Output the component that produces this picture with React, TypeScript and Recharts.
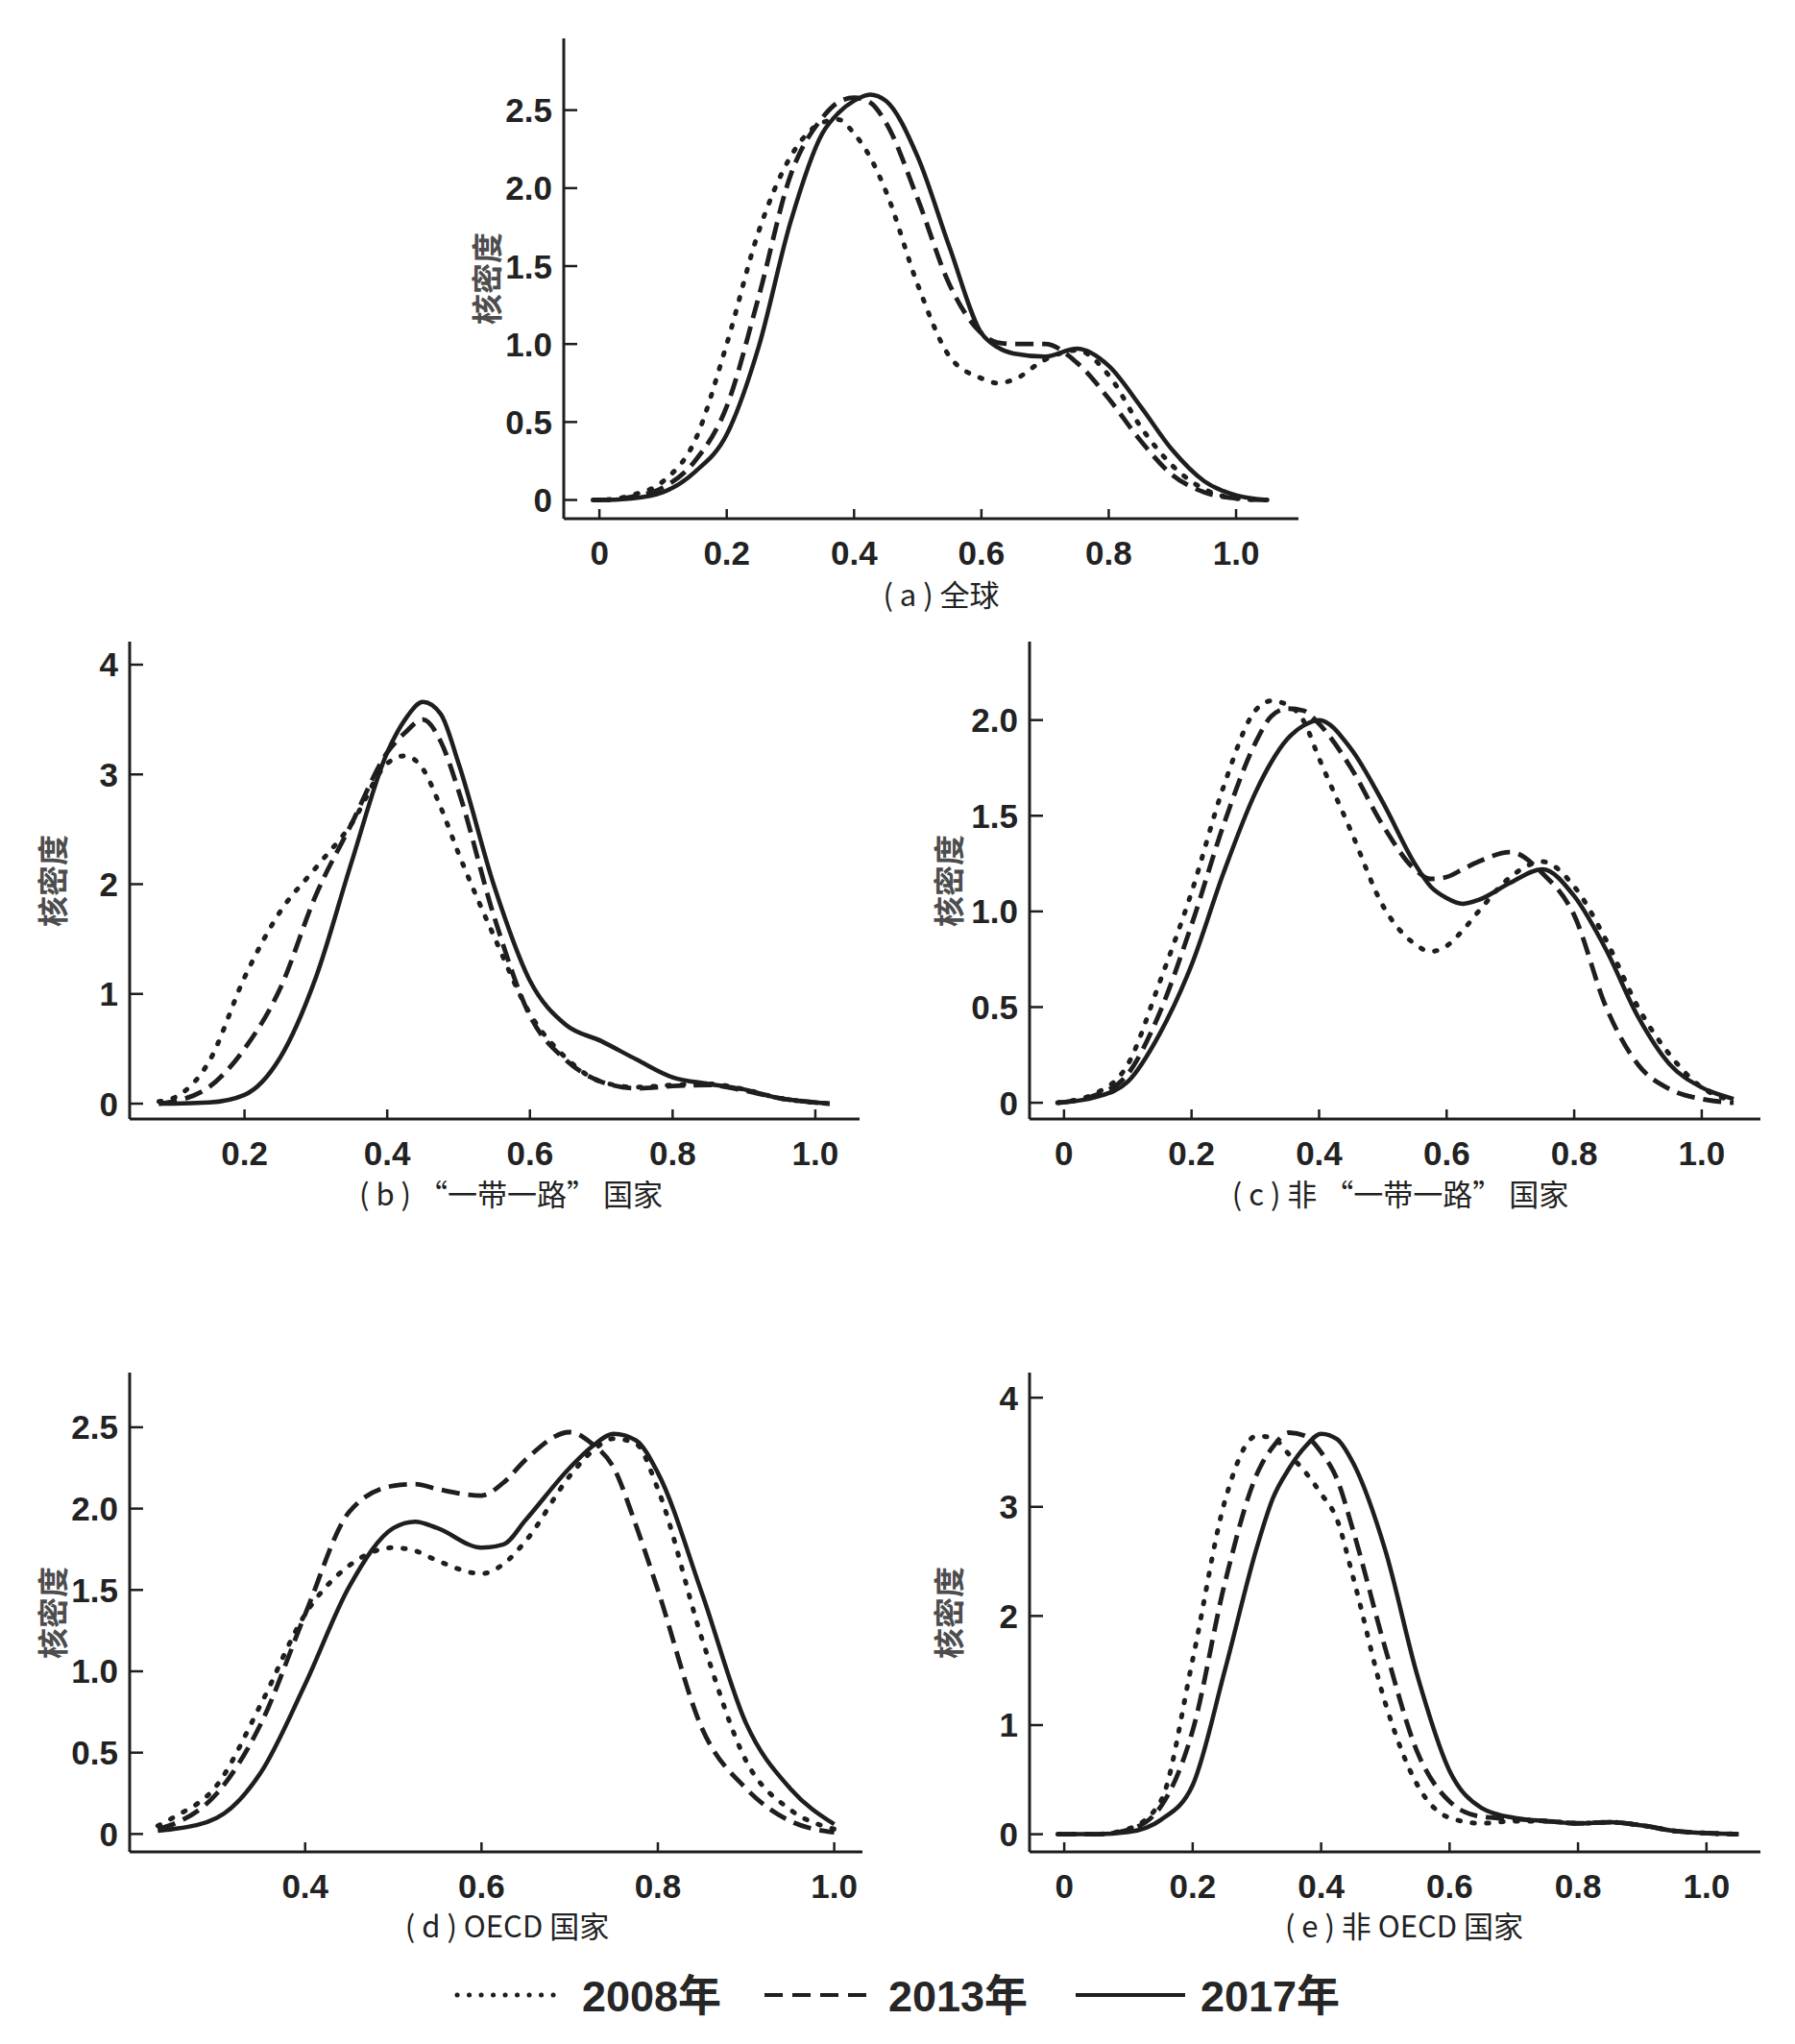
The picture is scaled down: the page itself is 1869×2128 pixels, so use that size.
import React from 'react';
import { LineChart, Line, XAxis, YAxis } from 'recharts';

// kernel density curves
const aX = [-0.01, 0, 0.05, 0.1, 0.15, 0.2, 0.25, 0.3, 0.35, 0.375, 0.4, 0.425, 0.45, 0.5, 0.55, 0.6, 0.625, 0.65, 0.7, 0.75, 0.8, 0.85, 0.9, 0.95, 1.0, 1.05];
const a2008 = [0, 0, 0.03, 0.12, 0.38, 1.0, 1.72, 2.2, 2.42, 2.44, 2.35, 2.2, 1.98, 1.38, 0.92, 0.78, 0.75, 0.77, 0.9, 0.96, 0.8, 0.47, 0.22, 0.07, 0.01, 0];
const a2013 = [0, 0, 0.02, 0.08, 0.25, 0.6, 1.3, 2.08, 2.45, 2.55, 2.58, 2.55, 2.42, 1.93, 1.38, 1.07, 1.01, 1.0, 1.0, 0.88, 0.65, 0.38, 0.16, 0.05, 0.01, 0];
const a2017 = [0, 0, 0.01, 0.05, 0.18, 0.42, 0.98, 1.78, 2.35, 2.48, 2.56, 2.6, 2.56, 2.2, 1.62, 1.07, 0.98, 0.94, 0.92, 0.97, 0.86, 0.6, 0.32, 0.12, 0.03, 0];

const bX = [0.08, 0.1, 0.15, 0.2, 0.25, 0.3, 0.35, 0.4, 0.425, 0.45, 0.475, 0.5, 0.55, 0.6, 0.65, 0.7, 0.75, 0.8, 0.85, 0.9, 0.95, 1.0, 1.02];
const b2008 = [0.02, 0.05, 0.38, 1.15, 1.75, 2.15, 2.55, 3.1, 3.17, 3.05, 2.7, 2.28, 1.52, 0.82, 0.42, 0.2, 0.15, 0.17, 0.18, 0.13, 0.05, 0.01, 0];
const b2013 = [0, 0.02, 0.15, 0.5, 1.05, 1.9, 2.55, 3.2, 3.38, 3.5, 3.3, 2.85, 1.7, 0.8, 0.4, 0.2, 0.14, 0.16, 0.17, 0.12, 0.05, 0.01, 0];
const b2017 = [0, 0, 0.01, 0.08, 0.42, 1.15, 2.2, 3.2, 3.5, 3.66, 3.55, 3.1, 1.98, 1.12, 0.72, 0.57, 0.4, 0.24, 0.18, 0.13, 0.05, 0.01, 0];

const cX = [-0.01, 0.05, 0.1, 0.15, 0.2, 0.25, 0.3, 0.325, 0.35, 0.375, 0.4, 0.45, 0.5, 0.55, 0.575, 0.6, 0.625, 0.65, 0.7, 0.75, 0.8, 0.85, 0.9, 0.95, 1.0, 1.05];
const c2008 = [0, 0.05, 0.2, 0.63, 1.1, 1.65, 2.05, 2.1, 2.08, 2.0, 1.8, 1.42, 1.03, 0.83, 0.79, 0.82, 0.9, 1.0, 1.18, 1.26, 1.13, 0.85, 0.5, 0.25, 0.08, 0.01];
const c2013 = [0, 0.04, 0.15, 0.47, 0.93, 1.45, 1.88, 2.02, 2.06, 2.05, 1.98, 1.75, 1.45, 1.22, 1.17, 1.18, 1.22, 1.26, 1.31, 1.2, 0.98, 0.5, 0.2, 0.07, 0.02, 0];
const c2017 = [0, 0.03, 0.11, 0.36, 0.72, 1.2, 1.62, 1.78, 1.9, 1.97, 2.0, 1.85, 1.57, 1.25, 1.13, 1.07, 1.04, 1.06, 1.15, 1.22, 1.08, 0.8, 0.45, 0.2, 0.08, 0.02];

const dX = [0.233, 0.25, 0.3, 0.35, 0.4, 0.45, 0.5, 0.525, 0.55, 0.6, 0.625, 0.65, 0.7, 0.725, 0.75, 0.775, 0.8, 0.85, 0.9, 0.95, 1.0];
const d2008 = [0.05, 0.1, 0.3, 0.8, 1.35, 1.65, 1.76, 1.74, 1.68, 1.6, 1.66, 1.8, 2.2, 2.35, 2.43, 2.4, 2.12, 1.2, 0.45, 0.15, 0.03];
const d2013 = [0.03, 0.06, 0.25, 0.68, 1.35, 1.98, 2.14, 2.15, 2.12, 2.08, 2.16, 2.3, 2.47, 2.4, 2.25, 1.9, 1.5, 0.65, 0.28, 0.08, 0.01];
const d2017 = [0.02, 0.03, 0.1, 0.38, 0.92, 1.52, 1.88, 1.92, 1.88, 1.76, 1.78, 1.93, 2.25, 2.38, 2.46, 2.42, 2.22, 1.48, 0.68, 0.28, 0.06];

const eX = [-0.01, 0.05, 0.1, 0.15, 0.2, 0.25, 0.3, 0.325, 0.35, 0.375, 0.4, 0.425, 0.45, 0.5, 0.55, 0.6, 0.65, 0.7, 0.75, 0.8, 0.85, 0.9, 0.95, 1.0, 1.05];
const e2008 = [0, 0, 0.05, 0.3, 1.6, 3.05, 3.65, 3.63, 3.48, 3.32, 3.12, 2.88, 2.35, 1.2, 0.45, 0.15, 0.1, 0.12, 0.12, 0.1, 0.11, 0.08, 0.03, 0.01, 0];
const e2013 = [0, 0, 0.04, 0.25, 0.95, 2.3, 3.3, 3.55, 3.68, 3.65, 3.5, 3.25, 2.78, 1.7, 0.75, 0.3, 0.16, 0.14, 0.12, 0.1, 0.11, 0.08, 0.03, 0.01, 0];
const e2017 = [0, 0, 0.02, 0.13, 0.45, 1.5, 2.63, 3.08, 3.35, 3.55, 3.67, 3.62, 3.4, 2.6, 1.45, 0.58, 0.24, 0.15, 0.12, 0.1, 0.11, 0.08, 0.03, 0.01, 0];

const xTicksFull = [0, 0.2, 0.4, 0.6, 0.8, 1.0];
const xTicksB = [0.2, 0.4, 0.6, 0.8, 1.0];
const xTicksD = [0.4, 0.6, 0.8, 1.0];
const yTicksHalf = [0, 0.5, 1.0, 1.5, 2.0, 2.5];
const yTicksC = [0, 0.5, 1.0, 1.5, 2.0];
const yTicksInt = [0, 1, 2, 3, 4];

const years = ['2008年', '2013年', '2017年'];
const yLabel = '核密度';

const INK = '#1e1e1e';
const NUM_FONT = "'Liberation Sans', Arial, sans-serif";
const CJK_FONT = "'Noto Sans CJK SC', 'Liberation Sans', sans-serif";

const lineStyles = [
  { dash: '2.5 12.5', width: 5, cap: 'round' as const },
  { dash: '19 9', width: 4.8, cap: 'butt' as const },
  { dash: undefined, width: 4.5, cap: 'butt' as const },
];

const fmt = (v: number, dec: number) => (v === 0 ? '0' : v.toFixed(dec));

function makeXTick(dec: number) {
  return (props: any) => {
    const { x, y, payload } = props;
    return (
      <g>
        <line x1={x} x2={x} y1={y} y2={y - 10} stroke={INK} strokeWidth={2.5} />
        <text x={x} y={y + 35} textAnchor="middle" dominantBaseline="central"
          fontFamily={NUM_FONT} fontWeight={700} fontSize={35} fill="#222">
          {fmt(payload.value, dec)}
        </text>
      </g>
    );
  };
}

function makeYTick(dec: number) {
  return (props: any) => {
    const { x, y, payload } = props;
    return (
      <g>
        <line x1={x} x2={x + 14} y1={y} y2={y} stroke={INK} strokeWidth={2.5} />
        <text x={x - 12} y={y} textAnchor="end" dominantBaseline="central"
          fontFamily={NUM_FONT} fontWeight={700} fontSize={35} fill="#222">
          {fmt(payload.value, dec)}
        </text>
      </g>
    );
  };
}

interface PanelProps {
  xs: number[];
  series: number[][];
  xDomain: [number, number];
  yDomain: [number, number];
  xTicks: number[];
  yTicks: number[];
  yDec: number;
  left: number;
  top: number;
  right: number;
  bottom: number;
  caption: string;
  captionX: number;
  captionY: number;
  labelX: number;
}

const YW = 130;
const XH = 90;

function Panel(p: PanelProps) {
  const data = p.xs.map((x, i) => ({ x, y2008: p.series[0][i], y2013: p.series[1][i], y2017: p.series[2][i] }));
  const plotW = p.right - p.left;
  const plotH = p.bottom - p.top;
  const chartLeft = p.left - YW;
  const chartTop = p.top - 10;
  return (
    <>
      <div style={{ position: 'absolute', left: chartLeft, top: chartTop }}>
        <LineChart width={YW + plotW + 10} height={10 + plotH + XH} data={data}
          margin={{ top: 10, right: 10, bottom: 0, left: 0 }}>
          <XAxis dataKey="x" type="number" domain={p.xDomain} ticks={p.xTicks} interval={0}
            allowDataOverflow height={XH} tickSize={0} tickMargin={0} tickLine={false}
            axisLine={{ stroke: INK, strokeWidth: 3 }} tick={makeXTick(1)} />
          <YAxis type="number" domain={p.yDomain} ticks={p.yTicks} interval={0}
            allowDataOverflow width={YW} tickSize={0} tickMargin={0} tickLine={false}
            axisLine={{ stroke: INK, strokeWidth: 3 }} tick={makeYTick(p.yDec)} />
          {['y2008', 'y2013', 'y2017'].map((k, i) => (
            <Line key={k} dataKey={k} type="monotone" dot={false} isAnimationActive={false}
              stroke={INK} strokeWidth={lineStyles[i].width}
              strokeDasharray={lineStyles[i].dash} strokeLinecap={lineStyles[i].cap} />
          ))}
        </LineChart>
      </div>
      <div style={{
        position: 'absolute', left: p.labelX, top: (p.top + p.bottom) / 2,
        transform: 'translate(-50%, -50%) rotate(-90deg)', whiteSpace: 'nowrap',
        fontFamily: CJK_FONT, fontWeight: 700, fontSize: 32, color: '#4d4d4d', lineHeight: 1,
      }}>{yLabel}</div>
      <div style={{
        position: 'absolute', left: p.captionX, top: p.captionY,
        transform: 'translate(-50%, -50%)', whiteSpace: 'pre',
        fontFamily: CJK_FONT, fontSize: 31, color: '#222', lineHeight: 1,
      }}>{p.caption}</div>
    </>
  );
}

function Legend() {
  const items = [
    { x1: 476, x2: 588, tx: 606 },
    { x1: 796, x2: 910, tx: 925 },
    { x1: 1120, x2: 1234, tx: 1250 },
  ];
  return (
    <svg style={{ position: 'absolute', left: 0, top: 2040 }} width={1869} height={80}>
      {items.map((it, i) => (
        <g key={years[i]}>
          <line x1={it.x1} x2={it.x2} y1={37} y2={37} stroke={INK}
            strokeWidth={i === 0 ? 5 : 4} strokeDasharray={i === 0 ? '0.1 12.4' : i === 1 ? '19 10' : undefined}
            strokeLinecap={i === 0 ? 'round' : 'butt'} />
          <text x={it.tx} y={38} dominantBaseline="central" fontFamily={NUM_FONT + ", 'Noto Sans CJK SC'"}
            fontWeight={700} fontSize={45} fill="#262626">{years[i]}</text>
        </g>
      ))}
    </svg>
  );
}

export default function App() {
  return (
    <div style={{ position: 'absolute', left: 0, top: 0, width: 1869, height: 2128, background: '#fff', overflow: 'hidden' }}>
      <Panel xs={aX} series={[a2008, a2013, a2017]} xDomain={[-0.056, 1.098]} yDomain={[-0.12, 2.96]}
        xTicks={xTicksFull} yTicks={yTicksHalf} yDec={1}
        left={587} top={40} right={1352} bottom={540}
        caption="( a ) 全球" captionX={980} captionY={617} labelX={505} />
      <Panel xs={bX} series={[b2008, b2013, b2017]} xDomain={[0.039, 1.062]} yDomain={[-0.14, 4.21]}
        xTicks={xTicksB} yTicks={yTicksInt} yDec={0}
        left={135} top={668} right={895} bottom={1165}
        caption="( b ) “一带一路” 国家" captionX={532} captionY={1241} labelX={53} />
      <Panel xs={cX} series={[c2008, c2013, c2017]} xDomain={[-0.054, 1.092]} yDomain={[-0.085, 2.41]}
        xTicks={xTicksFull} yTicks={yTicksC} yDec={1}
        left={1072} top={668} right={1833} bottom={1165}
        caption="( c ) 非 “一带一路” 国家" captionX={1458} captionY={1241} labelX={986} />
      <Panel xs={dX} series={[d2008, d2013, d2017]} xDomain={[0.201, 1.032]} yDomain={[-0.11, 2.836]}
        xTicks={xTicksD} yTicks={yTicksHalf} yDec={1}
        left={135} top={1429} right={898} bottom={1928}
        caption="( d ) OECD 国家" captionX={528} captionY={2003} labelX={53} />
      <Panel xs={eX} series={[e2008, e2013, e2017]} xDomain={[-0.054, 1.084]} yDomain={[-0.162, 4.23]}
        xTicks={xTicksFull} yTicks={yTicksInt} yDec={0}
        left={1072} top={1429} right={1833} bottom={1928}
        caption="( e ) 非 OECD 国家" captionX={1462} captionY={2003} labelX={986} />
      <Legend />
    </div>
  );
}
